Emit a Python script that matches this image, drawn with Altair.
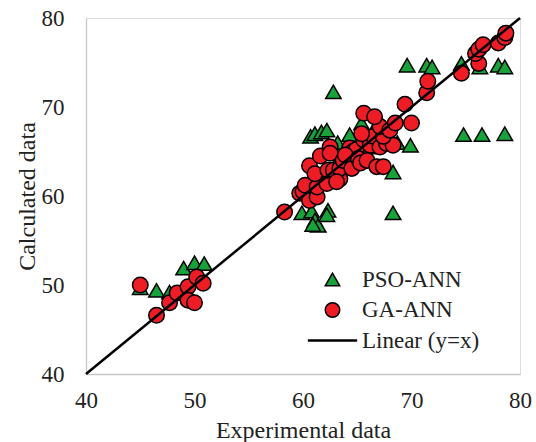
import altair as alt
import pandas as pd

# PSO-ANN (triangles)
pso_exp = [45.0, 46.5, 47.7, 49.0, 50.0, 50.9,
           59.9, 60.8, 61.1, 61.4, 62.3, 62.2, 60.9,
           60.7, 61.1, 61.7, 62.2, 64.3, 65.4, 63.2, 62.8,
           64.5, 66.0, 67.5, 63.0, 66.5, 68.7,
           69.9, 68.3, 68.3,
           69.6, 71.4, 71.9, 74.6, 76.3, 78.0, 78.6,
           74.8, 76.5, 78.6]
pso_calc = [49.7, 49.4, 49.2, 51.9, 52.5, 52.4,
            58.1, 58.3, 57.3, 56.7, 58.4, 57.9, 56.8,
            66.7, 67.0, 67.2, 67.4, 66.9, 68.2, 66.0, 71.7,
            64.0, 65.5, 66.0, 63.5, 67.4, 66.0,
            65.7, 62.7, 58.1,
            74.7, 74.7, 74.5, 74.9, 74.5, 74.7, 74.5,
            66.9, 66.9, 67.0]

# GA-ANN (circles)
ga_exp = [45.0, 46.5, 47.7, 48.4, 49.4, 49.4, 50.0, 50.2, 50.8,
          58.3, 59.7, 60.0, 60.6, 61.3, 60.2, 61.3, 62.2, 63.4, 60.6,
          61.1, 61.6, 62.5, 62.5, 62.3, 62.8, 63.4, 63.1, 63.7, 64.3,
          64.6, 64.9, 63.9, 64.5, 65.1, 65.3, 65.9, 66.8, 67.4, 65.6,
          66.2, 66.5, 67.1, 67.7, 68.3, 67.4, 67.1, 68.0, 68.5, 65.4,
          65.6, 66.6, 69.4, 70.0, 71.4, 71.5, 74.6, 76.2, 75.9, 76.2,
          76.6, 78.0, 78.6, 78.7]
ga_calc = [50.0, 46.6, 48.0, 49.1, 49.8, 48.3, 48.0, 50.9, 50.2,
           58.2, 60.3, 60.5, 59.5, 59.9, 61.2, 61.0, 61.4, 61.9, 63.4,
           62.5, 64.5, 65.5, 64.8, 62.9, 62.9, 63.1, 61.6, 64.0, 65.4,
           65.0, 65.2, 64.6, 63.1, 64.2, 63.7, 64.0, 63.3, 63.3, 66.3,
           65.7, 66.7, 65.5, 65.9, 65.7, 66.7, 67.8, 67.4, 68.2, 67.0,
           69.3, 68.9, 70.3, 68.2, 71.6, 72.9, 73.8, 74.9, 76.0, 76.5,
           77.0, 77.2, 77.8, 78.3]

line_x = [40, 80]
line_y = [40, 80]

series_names = ["PSO-ANN", "GA-ANN", "Linear (y=x)"]
series_colors = ["#17a23a", "#ee1c24", "#000000"]

pts = pd.DataFrame({
    "exp": pso_exp + ga_exp,
    "calc": pso_calc + ga_calc,
    "series": ["PSO-ANN"] * len(pso_exp) + ["GA-ANN"] * len(ga_exp),
})
lin = pd.DataFrame({"exp": line_x, "calc": line_y})

FONT = "Liberation Serif"
ticks = [40, 50, 60, 70, 80]

xscale = alt.Scale(domain=[40, 80], nice=False, zero=False)
yscale = alt.Scale(domain=[40, 80], nice=False, zero=False)

xaxis = alt.Axis(values=ticks, title="Experimental data", grid=False, ticks=False,
                 domainColor="#c8c8c8", domainWidth=1.3, labelFont=FONT,
                 labelFontSize=23, labelColor="#222222", labelPadding=15,
                 labelFlush=False,
                 titleFont=FONT, titleFontSize=24, titleFontWeight="normal",
                 titleColor="#222222", titlePadding=6)
yaxis = alt.Axis(values=ticks, title="Calculated data", grid=False, ticks=False,
                 domainColor="#c8c8c8", domainWidth=1.3, labelFont=FONT,
                 labelFontSize=23, labelColor="#222222", labelPadding=22,
                 labelFlush=False,
                 titleFont=FONT, titleFontSize=24, titleFontWeight="normal",
                 titleColor="#222222", titlePadding=2)

line_path = "M-3.3,-0.07L3.3,-0.07L3.3,0.07L-3.3,0.07Z"

legend = alt.Legend(title=None, orient="none", legendX=235, legendY=250,
                    symbolSize=210, symbolStrokeColor="black", symbolStrokeWidth=1.5,
                    labelFont=FONT, labelFontSize=23, labelColor="#222222",
                    labelOffset=18, rowPadding=6.5, padding=0)

points = alt.Chart(pts).mark_point(filled=True, stroke="black", strokeWidth=1.5,
                                   opacity=1, size=240).encode(
    x=alt.X("exp:Q", scale=xscale, axis=xaxis),
    y=alt.Y("calc:Q", scale=yscale, axis=yaxis),
    color=alt.Color("series:N", scale=alt.Scale(domain=series_names, range=series_colors),
                    legend=legend),
    shape=alt.Shape("series:N", scale=alt.Scale(domain=series_names,
                    range=["triangle-up", "circle", line_path]), legend=legend),
)

line = alt.Chart(lin).mark_line(color="black", strokeWidth=2.5).encode(
    x=alt.X("exp:Q", scale=xscale),
    y=alt.Y("calc:Q", scale=yscale),
)

chart = alt.layer(points, line).properties(
    width=434, height=356,
    autosize=alt.AutoSizeParams(type="none"),
    padding={"left": 86, "top": 18, "right": 16, "bottom": 68},
).configure_view(stroke=None).configure(background="white")

chart.save("out.html", embed_options={"renderer": "svg", "actions": False})
